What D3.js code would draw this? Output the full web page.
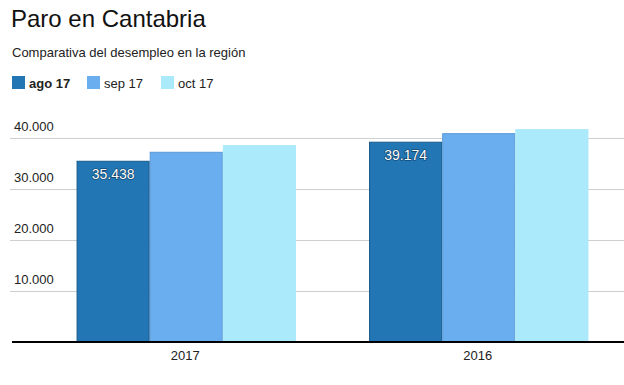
<!DOCTYPE html>
<html lang="es">

<head>
	<meta charset="UTF-8">
	<title>Paro en Cantabria</title>
	<script src="https://d3js.org/d3.v7.min.js"></script>
	<style>
		body {
			margin: 0;
			background: #fff;
			font-family: "Liberation Sans", Arial, sans-serif;
		}

		.grid line {
			stroke: #cfcfcf;
			stroke-width: 1px;
		}

		.tick-label,
		.x-label,
		.legend text {
			font-size: 13px;
			fill: #222;
		}

		.value-label {
			font-size: 14px;
			fill: #fff;
			stroke: #0d3d63;
			stroke-width: 1.2px;
			paint-order: stroke;
			text-anchor: middle;
		}
	</style>
</head>

<body>
	<script>
		const width = 624;
		const height = 385;

		const years = ["2017", "2016"];
		const series = ["ago 17", "sep 17", "oct 17"];
		const values = {
			"2017": [35438, 37200, 38500],
			"2016": [39174, 40850, 41650]
		};
		const labelled = [35438, 39174];
		const yTicks = [10000, 20000, 30000, 40000];
		const colors = ["#2176b3", "#6aaeef", "#aaeafb"];
		const strokes = ["#17598c", "#5a9ad8", "#aaeafb"];

		const fmt = d => d3.format(",")(d).replace(/,/g, ".");

		const svg = d3.select("body").append("svg")
			.attr("width", width)
			.attr("height", height);

		const x = d3.scaleBand()
			.domain(years)
			.range([40, 625])
			.paddingInner(0.25)
			.paddingOuter(0.125);

		const xs = d3.scaleBand()
			.domain(series)
			.range([0, x.bandwidth()]);

		const y = d3.scaleLinear()
			.domain([0, 40000])
			.range([341.5, 137.5]);

		// title
		svg.append("text")
			.attr("x", 11)
			.attr("y", 27)
			.attr("font-size", 24)
			.attr("fill", "#111")
			.text("Paro en Cantabria");

		svg.append("text")
			.attr("x", 12)
			.attr("y", 57)
			.attr("font-size", 13)
			.attr("fill", "#222")
			.text("Comparativa del desempleo en la región");

		// legend
		const legendX = [12, 87, 161];
		const legend = svg.append("g")
			.attr("class", "legend")
			.selectAll("g")
			.data(series)
			.enter().append("g")
			.attr("transform", (d, i) => `translate(${legendX[i]},76)`);

		legend.append("rect")
			.attr("width", 13)
			.attr("height", 13)
			.attr("fill", (d, i) => colors[i]);

		legend.append("text")
			.attr("x", 17)
			.attr("y", 12)
			.attr("font-weight", (d, i) => i === 0 ? "bold" : "normal")
			.text(d => d);

		// grid
		const grid = svg.append("g").attr("class", "grid");
		grid.selectAll("line")
			.data(yTicks)
			.enter().append("line")
			.attr("x1", 10)
			.attr("x2", width)
			.attr("y1", d => Math.round(y(d)) + 0.5)
			.attr("y2", d => Math.round(y(d)) + 0.5);

		grid.selectAll("text")
			.data(yTicks)
			.enter().append("text")
			.attr("class", "tick-label")
			.attr("x", 14)
			.attr("y", d => y(d) - 7)
			.text(fmt);

		// bars
		const group = svg.append("g")
			.selectAll("g")
			.data(years)
			.enter().append("g")
			.attr("transform", d => `translate(${x(d)},0)`);

		group.selectAll("rect")
			.data(d => values[d].map((v, i) => ({ s: series[i], v, i })))
			.enter().append("rect")
			.attr("x", d => xs(d.s) + 0.5)
			.attr("y", d => y(d.v) + 0.5)
			.attr("width", xs.bandwidth() - 1)
			.attr("height", d => y(0) - y(d.v) - 0.5)
			.attr("fill", d => colors[d.i])
			.attr("stroke", d => strokes[d.i])
			.attr("stroke-width", 1);

		group.selectAll("text.value-label")
			.data(d => values[d].map((v, i) => ({ s: series[i], v, i })).filter(d => labelled.includes(d.v)))
			.enter().append("text")
			.attr("class", "value-label")
			.attr("x", d => xs(d.s) + xs.bandwidth() / 2)
			.attr("y", d => y(d.v) + 18)
			.text(d => fmt(d.v));

		// baseline
		svg.append("line")
			.attr("x1", 12)
			.attr("x2", width)
			.attr("y1", y(0) + 0.5)
			.attr("y2", y(0) + 0.5)
			.attr("stroke", "#000")
			.attr("stroke-width", 2);

		svg.append("g")
			.selectAll("text")
			.data(years)
			.enter().append("text")
			.attr("class", "x-label")
			.attr("x", d => x(d) + x.bandwidth() / 2 - 1)
			.attr("y", 360)
			.attr("text-anchor", "middle")
			.text(d => d);
	</script>
</body>

</html>
